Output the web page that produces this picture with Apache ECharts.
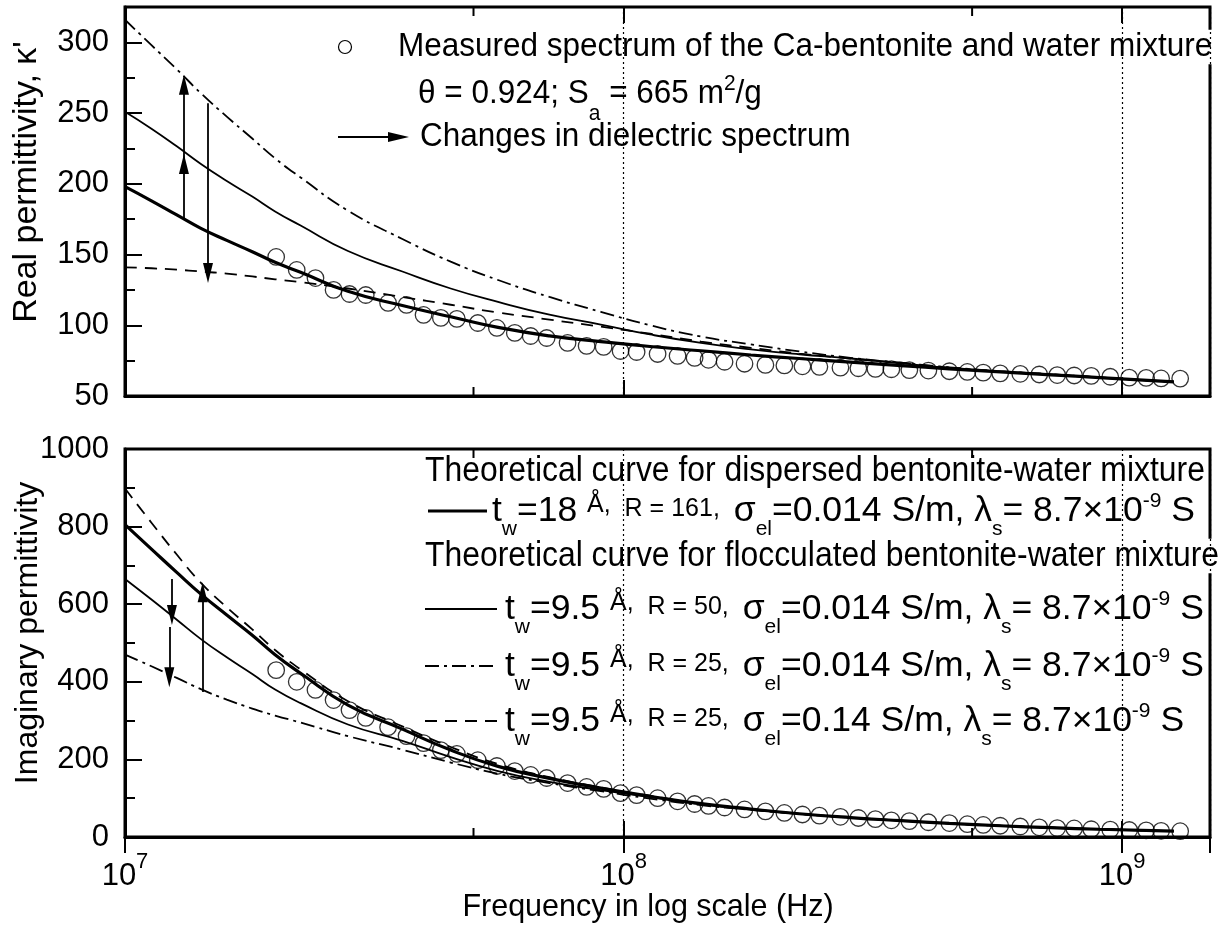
<!DOCTYPE html>
<html><head><meta charset="utf-8">
<script src="https://cdn.jsdelivr.net/npm/echarts@6/dist/echarts.min.js"></script>
<style>html,body{margin:0;padding:0;background:#fff}#c{width:1226px;height:930px}</style>
</head><body><div id="c"></div>
<script>
const FONT = '"Liberation Sans", Arial, Helvetica, sans-serif';

// ---- measured spectrum (frequency in Hz) ----
const measFreq = [2.01e7, 2.21e7, 2.41e7, 2.62e7, 2.82e7, 3.04e7, 3.37e7, 3.67e7, 3.97e7, 4.30e7,
  4.63e7, 5.10e7, 5.57e7, 6.05e7, 6.51e7, 7.01e7, 7.72e7, 8.43e7, 9.12e7, 9.86e7,
  1.062e8, 1.170e8, 1.283e8, 1.388e8, 1.480e8, 1.594e8, 1.748e8, 1.925e8, 2.101e8, 2.284e8,
  2.470e8, 2.722e8, 2.957e8, 3.199e8, 3.444e8, 3.742e8, 4.086e8, 4.501e8, 4.891e8, 5.264e8,
  5.693e8, 6.245e8, 6.818e8, 7.408e8, 8.012e8, 8.668e8, 9.463e8, 1.033e9, 1.117e9, 1.197e9, 1.307e9];
const measReal = [148.3, 139.1, 133.4, 125.0, 122.1, 121.4, 115.8, 114.4, 107.3, 105.2,
  104.5, 101.6, 98.1, 94.6, 92.4, 91.0, 87.5, 85.4, 84.7, 81.8,
  81.1, 79.7, 78.3, 76.9, 75.6, 74.2, 72.8, 72.0, 71.6, 71.0,
  70.6, 70.0, 69.6, 69.2, 68.9, 68.3, 68.0, 67.5, 67.0, 66.5,
  66.0, 65.7, 65.2, 64.8, 64.5, 64.2, 63.6, 63.0, 62.8, 62.4, 62.3];
const measImag = [430, 400, 379, 353, 327, 307, 283, 260, 242, 224,
  214, 198, 183, 170, 160, 152, 139, 129, 124, 113,
  108, 100, 92, 85, 80, 76, 71, 66, 62, 58,
  55, 52, 49, 46, 43, 41, 38, 36, 33, 31,
  29, 27, 25, 23, 22, 20, 19, 18, 17, 16, 15];

// ---- theoretical curves ----
const curveFreq = [1.0e7, 1.13e7, 1.27e7, 1.42e7, 1.6e7, 1.8e7, 2.0e7, 2.25e7, 2.8e7, 3.6e7,
  4.5e7, 5.6e7, 7.1e7, 9.0e7, 1.13e8, 1.43e8, 1.8e8, 2.25e8, 2.85e8, 3.6e8,
  4.5e8, 5.7e8, 7.2e8, 9.0e8, 1.27e9];
// real part
const realDispersed = [198, 188, 178, 168.5, 160, 152, 144.5, 137.5, 124, 114,
  106, 98.5, 92.5, 88.5, 85, 82, 79, 76.5, 74, 71.5, 69.2, 67, 65, 63, 60];
const realFloc50 = [251, 239, 226.5, 214, 202, 191, 180.5, 170.5, 152.5, 138,
  126, 116.5, 107.5, 100.5, 93.5, 87.5, 83, 79.5, 76.5, 73, 69.8, 67.3, 65.3, 63.1, 60];
const realFloc25 = [316, 298, 281, 264, 247.5, 232, 218, 204.5, 181, 161,
  145, 132, 120, 109.5, 100, 92, 86.5, 81.5, 77, 73.5, 70.3, 67.5, 65.4, 63.1, 60];
const realFloc25hi = [141, 140.3, 139.3, 138, 136.5, 134.5, 132.5, 130.5, 126, 120,
  114.5, 109, 104, 99, 94, 88.5, 84, 80, 76.5, 73.5, 70, 67.3, 65.3, 63.1, 60];
// imaginary part
const imagDispersed = [805, 742, 682, 626, 572, 520, 470, 422, 340, 278,
  224, 182, 151, 126, 105, 86, 72, 60, 50, 42, 35, 29, 24, 20, 15];
const imagFloc50 = [665, 612, 560, 510, 463, 420, 380, 345, 290, 248,
  206, 170, 142, 121, 103, 84, 71, 59.5, 50, 42, 35, 29, 24, 20, 15];
const imagFloc25 = [470, 440, 410, 381, 354, 331, 313, 295, 260, 225,
  192, 163, 139, 118, 99, 82, 70, 59.5, 50, 42, 35, 29, 24, 20, 15];
const imagFloc25hi = [898, 810, 728, 655, 592, 535, 482, 432, 350, 285,
  232, 188, 154, 128, 106, 86, 72, 60, 50, 42, 35, 29, 24, 20, 15];

// ---- "changes in spectrum" arrows: [frequency, from, to] ----
const realArrows = [[1.313e7, 174.5, 214], [1.313e7, 214, 270], [1.467e7, 257, 137]];
const imagArrows = [[1.242e7, 665, 572], [1.227e7, 541, 412], [1.431e7, 374, 631]];

// ---- axes ----
const xMin = 1e7, xMax = 1.5e9;
const minorXTicks = [5e7, 5e8];
const realAxis = {min: 50, max: 325, major: 50, minor: 25};
const imagAxis = {min: 0, max: 1000, major: 200, minor: 100};

const pair = (xs, ys) => xs.map((x, i) => [x, ys[i]]);

const DASHDOT = [14, 5, 3, 5];
const DASHED = [12, 8];
const curveDefs = [
  {name: 'dispersed', real: realDispersed, imag: imagDispersed, width: 3.2, type: 'solid'},
  {name: 'floc50', real: realFloc50, imag: imagFloc50, width: 1.8, type: 'solid'},
  {name: 'floc25', real: realFloc25, imag: imagFloc25, width: 1.8, type: DASHDOT},
  {name: 'floc25hi', real: realFloc25hi, imag: imagFloc25hi, width: 1.8, type: DASHED}
];

function xAxisCfg(gridIndex, labels) {
  return {
    type: 'log', logBase: 10, gridIndex, min: xMin, max: xMax,
    axisLine: {show: true, onZero: false, lineStyle: {color: '#000', width: 3}},
    axisTick: {show: true, inside: true, length: 16, lineStyle: {color: '#000', width: 2}},
    minorTick: {show: false},
    splitLine: {show: true, lineStyle: {color: '#000', width: 1.2, type: [2, 3]}},
    axisLabel: labels ? {
      show: true, margin: 24, showMaxLabel: false,
      formatter: v => '{b|10}{s|' + Math.round(Math.log10(v)) + '}',
      rich: {
        b: {fontSize: 31, fontFamily: FONT, color: '#000', lineHeight: 31},
        s: {fontSize: 22, fontFamily: FONT, color: '#000', lineHeight: 22, padding: [0, 0, 30, 0]}
      }
    } : {show: false}
  };
}
function xTopCfg(gridIndex) {
  return {
    type: 'log', logBase: 10, gridIndex, min: xMin, max: xMax, position: 'top',
    axisLine: {show: false},
    axisTick: {show: true, inside: true, length: 16, lineStyle: {color: '#000', width: 2}},
    splitLine: {show: false}, axisLabel: {show: false}
  };
}
function yMainCfg(gridIndex, a) {
  return {
    type: 'value', gridIndex, min: a.min, max: a.max, interval: a.major, position: 'left',
    axisLine: {show: true, onZero: false, lineStyle: {color: '#000', width: 3}},
    axisTick: {show: true, inside: true, length: 17, lineStyle: {color: '#000', width: 2}},
    splitLine: {show: false},
    axisLabel: {show: true, margin: 16, showMaxLabel: a.max % a.major === 0, fontSize: 31,
      fontFamily: FONT, color: '#000', formatter: v => String(v)}
  };
}
function yMinorCfg(gridIndex, a) {
  return {
    type: 'value', gridIndex, min: a.min, max: a.max, interval: a.minor, position: 'left',
    axisLine: {show: false},
    axisTick: {show: true, inside: true, length: 10, lineStyle: {color: '#000', width: 2}},
    splitLine: {show: false}, axisLabel: {show: false}
  };
}

const series = [];
[0, 1].forEach(g => {
  const xi = g * 2, yi = g * 2;
  curveDefs.forEach(c => {
    series.push({
      type: 'line', xAxisIndex: xi, yAxisIndex: yi, data: pair(curveFreq, g === 0 ? c.real : c.imag),
      showSymbol: false, smooth: 0.5, silent: true,
      lineStyle: {color: '#000', width: c.width, type: c.type}
    });
  });
  series.push({
    type: 'scatter', xAxisIndex: xi, yAxisIndex: yi, data: pair(measFreq, g === 0 ? measReal : measImag),
    symbol: 'circle', symbolSize: 16.5, silent: true,
    itemStyle: {color: 'rgba(0,0,0,0)', borderColor: '#000', borderWidth: 1.3}
  });
  const arrows = g === 0 ? realArrows : imagArrows;
  series.push({
    type: 'line', xAxisIndex: xi, yAxisIndex: yi, data: [], silent: true,
    markLine: {
      silent: true, animation: false,
      symbol: ['none', 'triangle'], symbolSize: [10, 20],
      label: {show: false},
      lineStyle: {color: '#000', width: 1.8, type: 'solid'},
      emphasis: {disabled: true},
      data: arrows.map(a => [{coord: [a[0], a[1]]}, {coord: [a[0], a[2]]}])
    }
  });
  series.push({
    type: 'custom', xAxisIndex: xi, yAxisIndex: yi, silent: true,
    data: minorXTicks.map(f => [f, g === 0 ? realAxis.min : imagAxis.min]),
    renderItem: (params, api) => {
      const p = api.coord([api.value(0), api.value(1)]);
      const cs = params.coordSys;
      return {type: 'group', children: [
        {type: 'line', shape: {x1: p[0], y1: cs.y + cs.height, x2: p[0], y2: cs.y + cs.height - 9}, style: {stroke: '#000', lineWidth: 2}},
        {type: 'line', shape: {x1: p[0], y1: cs.y, x2: p[0], y2: cs.y + 9}, style: {stroke: '#000', lineWidth: 2}}
      ]};
    }
  });
});

// ---- legend / annotation text (rich) ----
function makeRich(main, small) {
  return {
    m: {fontSize: main, fontFamily: FONT, fill: '#000', lineHeight: 28, backgroundColor: '#fff'},
    sub: {fontSize: 21, fontFamily: FONT, fill: '#000', lineHeight: 21, padding: [36, 0, 0, 0]},
    sup: {fontSize: 21, fontFamily: FONT, fill: '#000', lineHeight: 21, padding: [0, 0, 19, 0]},
    sm: {fontSize: small, fontFamily: FONT, fill: '#000', lineHeight: small, padding: [0, 0, 4, 0]},
    ang: {fontSize: small, fontFamily: FONT, fill: '#000', lineHeight: small, padding: [0, 0, 12, 0]}
  };
}
function txt(x, y, text, size, sy, small) {
  return {type: 'text', x, y, silent: true, scaleY: sy,
    style: {text, rich: makeRich(size, small || 24), fontSize: size, fontFamily: FONT, fill: '#000',
      align: 'left', verticalAlign: 'middle'}};
}
const rowText = (r, sig) => '{m|t}{sub|w}{m|=' + r[0] + ' }{ang|Å,}{sm|  R = ' + r[1] + ',  }{m|σ}{sub|el}{m|=' + sig + ' S/m, λ}{sub|s}{m|= 8.7×10}{sup|-9}{m| S}';

const graphics = [
  // top legend
  {type: 'circle', shape: {cx: 345, cy: 47, r: 6.5}, style: {fill: 'none', stroke: '#000', lineWidth: 1.2}, silent: true},
  txt(398, 47, '{m|Measured spectrum of the Ca-bentonite and water mixture}', 31.5, 1.08),
  txt(420, 137, '{m|Changes in dielectric spectrum}', 31.5, 1.08),
  txt(418, 94, '{m|θ = 0.924; S}{sub|a}{m| = 665 m}{sup|2}{m|/g}', 31.5, 1.08),
  {type: 'line', shape: {x1: 338, y1: 137, x2: 395, y2: 137}, style: {stroke: '#000', lineWidth: 2}, silent: true},
  {type: 'polygon', shape: {points: [[388, 132], [409, 137], [388, 142]]}, style: {fill: '#000'}, silent: true},
  // bottom legend
  txt(425, 471, '{m|Theoretical curve for dispersed bentonite-water mixture}', 31.9, 1.08),
  {type: 'line', shape: {x1: 428, y1: 511, x2: 487, y2: 511}, style: {stroke: '#000', lineWidth: 3.2}, silent: true},
  txt(492, 511, rowText(['18', '161'], '0.014'), 35.5, 1.0, 25),
  txt(425, 556, '{m|Theoretical curve for flocculated bentonite-water mixture}', 31.9, 1.08),
  {type: 'line', shape: {x1: 425, y1: 609, x2: 497, y2: 609}, style: {stroke: '#000', lineWidth: 1.8}, silent: true},
  txt(505, 609, rowText(['9.5', '50'], '0.014'), 35.5, 1.0, 25),
  {type: 'line', shape: {x1: 425, y1: 666, x2: 497, y2: 666}, style: {stroke: '#000', lineWidth: 1.8, lineDash: DASHDOT}, silent: true},
  txt(505, 666, rowText(['9.5', '25'], '0.014'), 35.5, 1.0, 25),
  {type: 'line', shape: {x1: 425, y1: 721, x2: 497, y2: 721}, style: {stroke: '#000', lineWidth: 1.8, lineDash: DASHED}, silent: true},
  txt(505, 721, rowText(['9.5', '25'], '0.14'), 35.5, 1.0, 25),
  // axis titles
  {type: 'text', x: 27, y: 182, rotation: Math.PI / 2, silent: true,
    style: {text: "Real permittivity, κ'", fontSize: 34, fontFamily: FONT, fill: '#000', align: 'center', verticalAlign: 'middle'}},
  {type: 'text', x: 28, y: 633, rotation: Math.PI / 2, silent: true,
    style: {text: 'Imaginary permittivity', fontSize: 32, fontFamily: FONT, fill: '#000', align: 'center', verticalAlign: 'middle'}},
  {type: 'text', x: 648, y: 908, silent: true,
    style: {text: 'Frequency in log scale (Hz)', fontSize: 30.5, fontFamily: FONT, fill: '#000', align: 'center', verticalAlign: 'middle'}}
];

const chart = echarts.init(document.getElementById('c'), null, {renderer: 'canvas'});
chart.setOption({
  animation: false,
  backgroundColor: '#fff',
  grid: [
    {left: 125, right: 16, top: 7, height: 389, show: true, borderColor: '#000', borderWidth: 3, backgroundColor: 'transparent'},
    {left: 125, right: 16, top: 449, height: 388, show: true, borderColor: '#000', borderWidth: 3, backgroundColor: 'transparent'}
  ],
  xAxis: [xAxisCfg(0, false), xTopCfg(0), xAxisCfg(1, true), xTopCfg(1)],
  yAxis: [yMainCfg(0, realAxis), yMinorCfg(0, realAxis), yMainCfg(1, imagAxis), yMinorCfg(1, imagAxis)],
  series,
  graphic: graphics
});
</script></body></html>
